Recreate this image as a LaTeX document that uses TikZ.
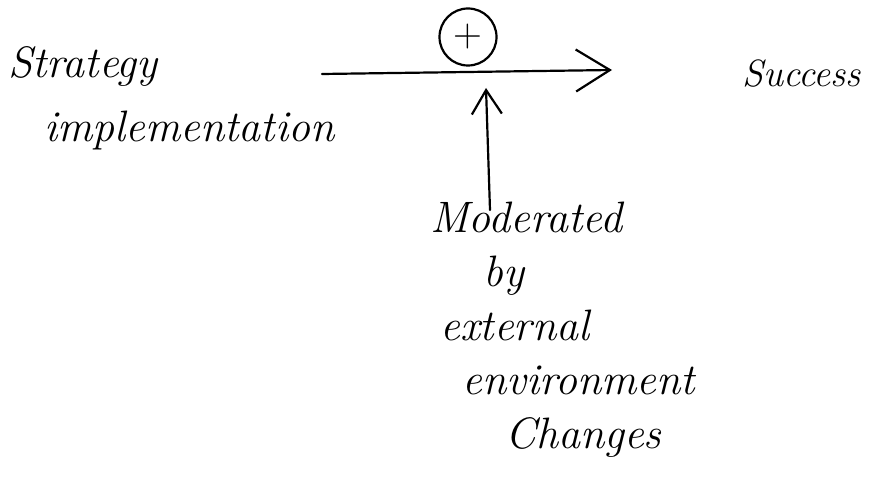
\documentclass[tikz,border=0pt]{standalone}
\usetikzlibrary{arrows.meta}
\begin{document}
\begin{tikzpicture}[x=1pt,y=-1pt,
  ink/.style={line width=2.2pt,line cap=round,line join=round},
  label/.style={font=\itshape\fontsize{44}{54}\selectfont,inner sep=0pt,align=left},
  bigbarb/.style={-{Straight Barb[length=34pt,width=42pt,line width=2.2pt]}},
  smallbarb/.style={-{Straight Barb[length=24pt,width=30pt,line width=2.2pt]}}]
\useasboundingbox (0,0) rectangle (887,481);

% causal relation
\node[label,anchor=north west,font=\itshape\fontsize{44}{64}\selectfont] (strat) at (8,46) {Strategy\\\hspace*{36pt}implementation};
\node[label,anchor=west,font=\itshape\fontsize{38}{44}\selectfont] (succ) at (742,74) {Success};
\coordinate (from) at (322,74);
\coordinate (to) at (612,70);
\draw[ink,bigbarb] (from) -- (to);

% sign of the effect
\node[draw,ink,circle,minimum size=57pt,inner sep=0pt,font=\fontsize{40}{44}\selectfont] (plus) at (468,37) {+};

% moderator
\node[label,anchor=north west] (mod) at (430,202)
  {Moderated\\\hspace*{53pt}by\\\hspace*{10pt}external\\\hspace*{32pt}environment\\\hspace*{75pt}Changes};
\coordinate (hit) at (486,88);
\draw[ink,smallbarb] (mod.north -| 490,0) ++(0,8) -- (hit);
\end{tikzpicture}
\end{document}
